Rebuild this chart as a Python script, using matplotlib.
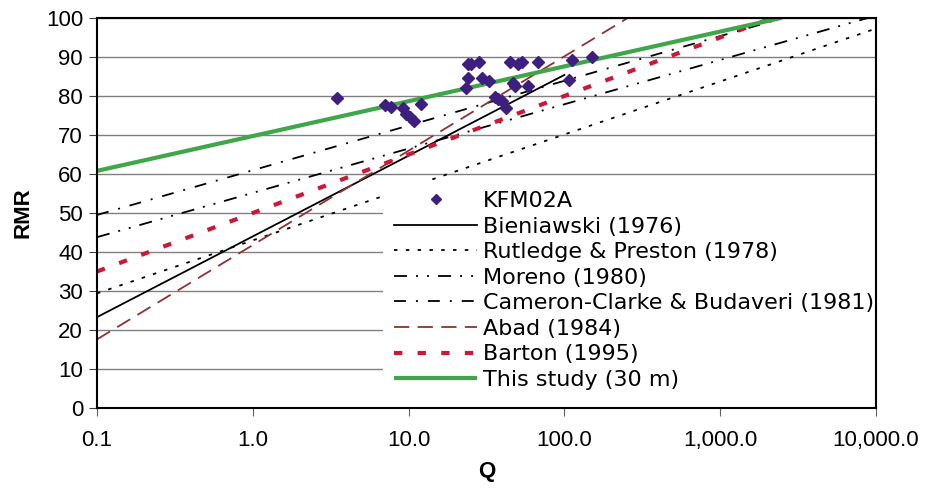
import matplotlib
matplotlib.use("Agg")
import matplotlib.pyplot as plt
from matplotlib.ticker import FixedLocator, FuncFormatter, NullLocator

plt.rcParams["font.family"] = "Liberation Sans"
plt.rcParams["lines.scale_dashes"] = False

# KFM02A measurements (Q, RMR)
kfm_q = [3.47, 7.06, 7.71, 9.2, 9.69, 10.2, 10.8, 12.1, 23.2, 23.9, 23.9,
         25.1, 28.1, 29.5, 33.0, 35.9, 37.7, 39.6, 42.2, 44.8, 47.0, 48.2,
         50.6, 53.2, 58.1, 67.4, 107.5, 111.4, 149.7]
kfm_rmr = [79.4, 77.8, 77.3, 76.8, 75.4, 74.5, 73.7, 77.9, 82.0, 84.5, 88.2,
           88.2, 88.6, 84.7, 83.9, 79.8, 79.2, 78.7, 76.8, 88.6, 83.4, 82.6,
           88.2, 88.8, 82.6, 88.6, 84.1, 89.2, 90.1]

# published RMR-Q correlations, straight lines on the log axis (end points)
bieniawski_q, bieniawski_rmr = [0.1, 100.0], [23.3, 85.4]
rutledge_q, rutledge_rmr = [0.1, 10000.0], [29.4, 97.3]
moreno_q, moreno_rmr = [0.1, 10000.0], [43.8, 100.6]
cameron_q, cameron_rmr = [0.1, 2540.0], [49.5, 100.0]
abad_q, abad_rmr = [0.1, 255.0], [17.6, 100.0]
barton_q, barton_rmr = [0.1, 2150.0], [35.0, 100.0]
study_q, study_rmr = [0.1, 2450.0], [60.8, 100.0]

x_ticks = [0.1, 1, 10, 100, 1000, 10000]
y_ticks = list(range(0, 101, 10))

fig = plt.figure(figsize=(9.3, 4.91), dpi=100)
ax = fig.add_axes([97 / 930, 83 / 491, 779 / 930, 390 / 491])

for y in y_ticks:
    ax.axhline(y, color="#808080", lw=1.0, zorder=1)

h_kfm, = ax.plot(kfm_q, kfm_rmr, ls="none", marker="D", ms=6.5,
                 mfc="#3D1F80", mec="#3D1F80", zorder=4, label="KFM02A")
h_bien, = ax.plot(bieniawski_q, bieniawski_rmr, color="black", lw=1.3,
                  label="Bieniawski (1976)")
h_rut, = ax.plot(rutledge_q, rutledge_rmr, color="black", lw=1.3,
                 ls=(0, (2.5, 6)), label="Rutledge & Preston (1978)")
h_mor, = ax.plot(moreno_q, moreno_rmr, color="black", lw=1.3,
                 ls=(0, (9.4, 6.5, 1.4, 6.5, 1.4, 6.5)), label="Moreno (1980)")
h_cam, = ax.plot(cameron_q, cameron_rmr, color="black", lw=1.3,
                 ls=(0, (8.6, 7.2, 1.4, 7.2)),
                 label="Cameron-Clarke & Budaveri (1981)")
h_abad, = ax.plot(abad_q, abad_rmr, color="#8C3333", lw=1.3,
                  ls=(0, (11, 6)), label="Abad (1984)")
h_bar, = ax.plot(barton_q, barton_rmr, color="#CC1836", lw=3.0,
                 ls=(0, (6, 11)), solid_capstyle="butt", label="Barton (1995)")
h_study, = ax.plot(study_q, study_rmr, color="#3FA649", lw=3.0,
                   solid_capstyle="butt", label="This study (30 m)")

ax.set_xscale("log")
ax.set_xlim(0.1, 10000)
ax.set_ylim(0, 100)
ax.xaxis.set_major_locator(FixedLocator(x_ticks))
ax.xaxis.set_minor_locator(NullLocator())
ax.xaxis.set_major_formatter(FuncFormatter(lambda v, p: f"{v:,.1f}"))
ax.set_yticks(y_ticks)

ax.tick_params(axis="x", direction="out", length=6, color="#606060",
               labelsize=16, pad=10)
ax.tick_params(axis="y", direction="out", length=6, color="#404040",
               labelsize=16, pad=4)

for sp in ax.spines.values():
    sp.set_color("black")
    sp.set_linewidth(1.5)
    sp.set_zorder(6)

ax.set_xlabel("Q", fontsize=16, fontweight="bold")
ax.set_ylabel("RMR", fontsize=16, fontweight="bold")
ax.xaxis.set_label_coords(0.5, -0.135)
ax.yaxis.set_label_coords(-0.081, 0.5)

handles = [h_kfm, h_bien, h_rut, h_mor, h_cam, h_abad, h_bar, h_study]
leg = ax.legend(handles=handles, loc="upper left",
                bbox_to_anchor=(0.367, 0.585), borderaxespad=0,
                prop={"family": "DejaVu Sans", "size": 16},
                handlelength=3.75, handletextpad=0.25, labelspacing=0.25,
                borderpad=0.5, frameon=True, fancybox=False,
                facecolor="white", framealpha=1.0)
leg.get_frame().set_linewidth(0)
leg.legend_handles[0].set_markersize(5)

fig.savefig("out.png", dpi=100)
